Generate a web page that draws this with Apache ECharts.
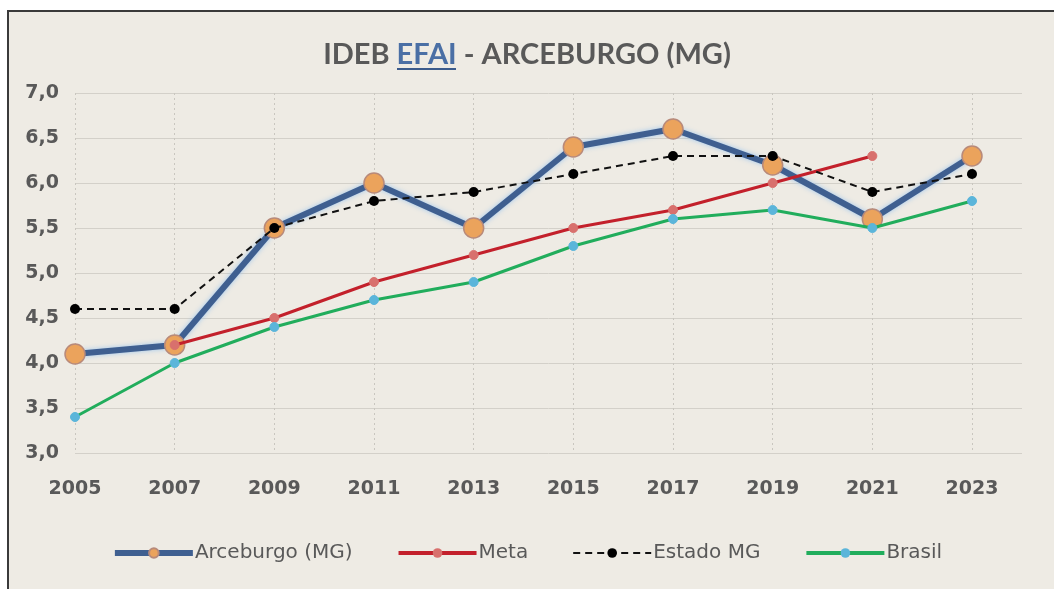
<!DOCTYPE html>
<html>
<head>
<meta charset="utf-8">
<script src="https://cdn.jsdelivr.net/npm/echarts@6/dist/echarts.min.js"></script>
<style>
html,body{margin:0;padding:0;background:#ffffff;}
#frame{position:absolute;left:7px;top:10px;width:1047px;height:579px;border-left:2px solid #3a3a3a;border-top:2px solid #3a3a3a;background:#eeebe4;box-sizing:border-box;}
#chart{position:absolute;left:0;top:0;width:1054px;height:589px;}
</style>
</head>
<body>
<div id="frame"></div>
<div id="chart"></div>
<script>
const years = ['2005','2007','2009','2011','2013','2015','2017','2019','2021','2023'];
const arceburgo = [4.1, 4.2, 5.5, 6.0, 5.5, 6.4, 6.6, 6.2, 5.6, 6.3];
const meta = [null, 4.2, 4.5, 4.9, 5.2, 5.5, 5.7, 6.0, 6.3, null];
const estadoMG = [4.6, 4.6, 5.5, 5.8, 5.9, 6.1, 6.3, 6.3, 5.9, 6.1];
const brasil = [3.4, 4.0, 4.4, 4.7, 4.9, 5.3, 5.6, 5.7, 5.5, 5.8];
const seriesNames = ['Arceburgo (MG)', 'Meta', 'Estado MG', 'Brasil'];
const yMin = 3.0, yMax = 7.0, yStep = 0.5;

const chart = echarts.init(document.getElementById('chart'), null, {renderer: 'canvas'});
const labelColor = '#595959';
const font = 'DejaVu Sans';
const titleFont = 'Lato';
const fmt = v => v.toFixed(1).replace('.', ',');

chart.setOption({
  backgroundColor: 'transparent',
  animation: false,
  title: {
    text: '{a|IDEB }{b|EFAI}{a| - ARCEBURGO (MG)}',
    left: 'center',
    top: 35,
    textStyle: {
      rich: {
        a: {fontFamily: titleFont, fontWeight: 'bold', fontSize: 29, color: labelColor},
        b: {fontFamily: titleFont, fontWeight: 'bold', fontSize: 29, color: '#4a6fa5'}
      }
    }
  },
  legend: {
    data: [
      {name: seriesNames[0], lineStyle: {width: 6}},
      {name: seriesNames[1], lineStyle: {width: 4}},
      {name: seriesNames[2], lineStyle: {width: 2}},
      {name: seriesNames[3], lineStyle: {width: 4}}
    ],
    bottom: 21,
    left: 'center',
    itemWidth: 78,
    itemHeight: 12,
    itemGap: 44,
    textStyle: {fontFamily: font, fontSize: 20, color: labelColor, padding: [0, 0, 0, -3]}
  },
  grid: [
    {left: 75, right: 82, top: 93, bottom: 136},
    {left: 75, right: 32, top: 93, bottom: 136}
  ],
  xAxis: [
    {
      type: 'category', gridIndex: 0, data: years, boundaryGap: false,
      axisLine: {show: false}, axisTick: {show: false},
      axisLabel: {margin: 27, fontFamily: font, fontWeight: 'bold', fontSize: 19, color: labelColor},
      splitLine: {show: true, lineStyle: {color: '#c9c6bf', type: [2, 3], width: 1}}
    },
    {
      type: 'category', gridIndex: 1, data: years, show: false
    }
  ],
  yAxis: [
    {
      type: 'value', gridIndex: 0, min: yMin, max: yMax, interval: yStep,
      axisLine: {show: false}, axisTick: {show: false},
      axisLabel: {margin: 16, formatter: fmt, fontFamily: font, fontWeight: 'bold', fontSize: 19, color: labelColor},
      splitLine: {show: false}
    },
    {
      type: 'value', gridIndex: 1, min: yMin, max: yMax, interval: yStep,
      axisLine: {show: false}, axisTick: {show: false}, axisLabel: {show: false},
      splitLine: {show: true, lineStyle: {color: '#d3d0c9', width: 1}}
    }
  ],
  series: [
    {
      name: seriesNames[0], type: 'line', data: arceburgo,
      symbol: 'circle', symbolSize: 20,
      lineStyle: {color: '#3f5f90', width: 6, shadowColor: 'rgba(140,190,240,0.8)', shadowBlur: 5},
      itemStyle: {color: '#eba35c', borderColor: '#b88a7a', borderWidth: 1.5},
      z: 2
    },
    {
      name: seriesNames[1], type: 'line', data: meta,
      symbol: 'circle', symbolSize: 9,
      lineStyle: {color: '#c3202b', width: 3},
      itemStyle: {color: '#d8706d', borderColor: '#d8706d'},
      z: 3
    },
    {
      name: seriesNames[2], type: 'line', data: estadoMG,
      symbol: 'circle', symbolSize: 10,
      lineStyle: {color: '#111111', width: 2, type: [7, 5]},
      itemStyle: {color: '#000000'},
      z: 4
    },
    {
      name: seriesNames[3], type: 'line', data: brasil,
      symbol: 'circle', symbolSize: 9,
      lineStyle: {color: '#21ad5c', width: 3},
      itemStyle: {color: '#5bb5da', borderColor: '#5bb5da'},
      z: 5
    }
  ],
  graphic: [
    {type: 'rect', shape: {x: 397, y: 68, width: 59, height: 2}, style: {fill: '#3b5b8c'}, z: 10}
  ]
});
</script>
</body>
</html>
